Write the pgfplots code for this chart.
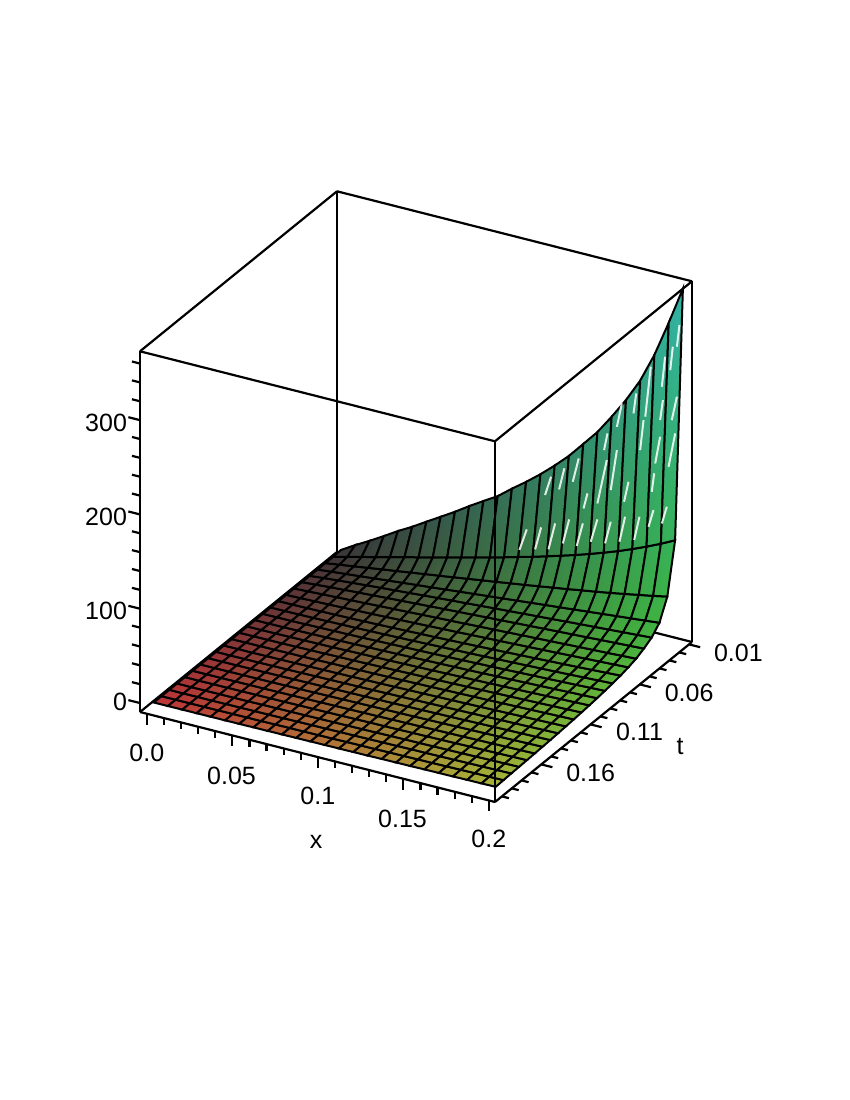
\documentclass[border=0pt]{standalone}
\usepackage{pgfplots}
\pgfplotsset{compat=1.18}
\usepackage{fontspec}
\setmainfont{Liberation Sans}
\usetikzlibrary{calc}
\begin{document}
\begin{tikzpicture}[x=1pt,y=1pt]
\begin{axis}[
  name=ax,
  clip=false,
  x={(1710pt,-433.5pt)}, y={(985pt,800pt)}, z={(0pt,0.943pt)},
  y dir=reverse,
  xmin=-0.004, xmax=0.2036, ymin=0.007, ymax=0.207, zmin=-9.5, zmax=373,
  3d box=complete,
  xtick={0,0.05,0.1,0.15,0.2}, xticklabels={0.0,0.05,0.1,0.15,0.2},
  ytick={0.01,0.06,0.11,0.16}, yticklabels={0.01,0.06,0.11,0.16},
  ztick={0,100,200,300}, zticklabels={0,100,200,300},
  tick align=outside, major tick length=11pt, minor tick length=0pt,
  axis line style={line width=2.2pt},
  tick style={draw=none},
  tick label style={font=\fontsize{25}{30}\selectfont},
  xticklabel style={xshift=16pt,yshift=-16pt},
  yticklabel style={xshift=22pt,yshift=16pt},
  zticklabel style={xshift=-1pt,yshift=10pt},
  label style={font=\fontsize{25}{30}\selectfont},
  xlabel=x, ylabel=t,
  xlabel style={xshift=30pt,yshift=-19pt},
  ylabel style={xshift=38pt,yshift=38pt},
  unbounded coords=jump,
]
\addplot3[surf, shader=faceted interp, faceted color=black, line width=2pt, z buffer=sort,
  mesh/rows=25,
  mesh/color input=explicit mathparse,
  point meta={symbolic={(0.22+0.53*(y-0.01)/0.19)*(1-0.12*x/0.2), 0.2+0.5*x/0.2, 0.22+0.43*z/366}}]
coordinates {
(0,0.01,-3)(0.0083,0.01,6)(0.0167,0.01,14.4)(0.025,0.01,23.2)(0.0333,0.01,32.4)(0.0417,0.01,40.8)(0.05,0.01,50)(0.0583,0.01,59)(0.0667,0.01,68.2)(0.075,0.01,78)(0.0833,0.01,87.2)(0.0917,0.01,96.3)(0.1,0.01,108)(0.1083,0.01,119)(0.1167,0.01,131)(0.125,0.01,144)(0.1333,0.01,158)(0.1417,0.01,174.5)(0.15,0.01,191)(0.1583,0.01,211)(0.1667,0.01,232.6)(0.175,0.01,257)(0.1833,0.01,288)(0.1917,0.01,326)(0.2,0.01,366)
(0,0.0179,-3.5)(0.0083,0.0179,0.2)(0.0167,0.0179,4)(0.025,0.0179,7.7)(0.0333,0.0179,11.5)(0.0417,0.0179,15.2)(0.05,0.0179,19)(0.0583,0.0179,22.7)(0.0667,0.0179,26.5)(0.075,0.0179,30.3)(0.0833,0.0179,34.2)(0.0917,0.0179,38)(0.1,0.0179,42)(0.1083,0.0179,46.1)(0.1167,0.0179,50.2)(0.125,0.0179,54.5)(0.1333,0.0179,59)(0.1417,0.0179,63.6)(0.15,0.0179,68.5)(0.1583,0.0179,73.7)(0.1667,0.0179,79.2)(0.175,0.0179,85.2)(0.1833,0.0179,91.6)(0.1917,0.0179,98.5)(0.2,0.0179,106)
(0,0.0258,-3.5)(0.0083,0.0258,-1.3)(0.0167,0.0258,0.8)(0.025,0.0258,3)(0.0333,0.0258,5.2)(0.0417,0.0258,7.3)(0.05,0.0258,9.5)(0.0583,0.0258,11.7)(0.0667,0.0258,13.8)(0.075,0.0258,16)(0.0833,0.0258,18.2)(0.0917,0.0258,20.4)(0.1,0.0258,22.6)(0.1083,0.0258,24.9)(0.1167,0.0258,27.1)(0.125,0.0258,29.4)(0.1333,0.0258,31.8)(0.1417,0.0258,34.1)(0.15,0.0258,36.6)(0.1583,0.0258,39)(0.1667,0.0258,41.6)(0.175,0.0258,44.3)(0.1833,0.0258,47.1)(0.1917,0.0258,49.9)(0.2,0.0258,53)
(0,0.0338,-3.5)(0.0083,0.0338,-2)(0.0167,0.0338,-0.5)(0.025,0.0338,0.9)(0.0333,0.0338,2.4)(0.0417,0.0338,3.9)(0.05,0.0338,5.4)(0.0583,0.0338,6.9)(0.0667,0.0338,8.3)(0.075,0.0338,9.8)(0.0833,0.0338,11.3)(0.0917,0.0338,12.8)(0.1,0.0338,14.3)(0.1083,0.0338,15.7)(0.1167,0.0338,17.2)(0.125,0.0338,18.7)(0.1333,0.0338,20.2)(0.1417,0.0338,21.6)(0.15,0.0338,23.1)(0.1583,0.0338,24.6)(0.1667,0.0338,26.1)(0.175,0.0338,27.6)(0.1833,0.0338,29)(0.1917,0.0338,30.5)(0.2,0.0338,32)
(0,0.0417,-3.5)(0.0083,0.0417,-2)(0.0167,0.0417,-0.7)(0.025,0.0417,0.6)(0.0333,0.0417,1.8)(0.0417,0.0417,3)(0.05,0.0417,4.1)(0.0583,0.0417,5.2)(0.0667,0.0417,6.4)(0.075,0.0417,7.5)(0.0833,0.0417,8.6)(0.0917,0.0417,9.6)(0.1,0.0417,10.7)(0.1083,0.0417,11.8)(0.1167,0.0417,12.8)(0.125,0.0417,13.9)(0.1333,0.0417,14.9)(0.1417,0.0417,15.9)(0.15,0.0417,17)(0.1583,0.0417,18)(0.1667,0.0417,19)(0.175,0.0417,20)(0.1833,0.0417,21)(0.1917,0.0417,22)(0.2,0.0417,23)
(0,0.0496,-3.5)(0.0083,0.0496,-2.3)(0.0167,0.0496,-1.2)(0.025,0.0496,-0.2)(0.0333,0.0496,0.8)(0.0417,0.0496,1.7)(0.05,0.0496,2.7)(0.0583,0.0496,3.6)(0.0667,0.0496,4.5)(0.075,0.0496,5.4)(0.0833,0.0496,6.3)(0.0917,0.0496,7.2)(0.1,0.0496,8)(0.1083,0.0496,8.9)(0.1167,0.0496,9.7)(0.125,0.0496,10.6)(0.1333,0.0496,11.4)(0.1417,0.0496,12.3)(0.15,0.0496,13.1)(0.1583,0.0496,13.9)(0.1667,0.0496,14.7)(0.175,0.0496,15.6)(0.1833,0.0496,16.4)(0.1917,0.0496,17.2)(0.2,0.0496,18)
(0,0.0575,-3.5)(0.0083,0.0575,-2.8)(0.0167,0.0575,-2)(0.025,0.0575,-1.3)(0.0333,0.0575,-0.6)(0.0417,0.0575,0.1)(0.05,0.0575,0.9)(0.0583,0.0575,1.6)(0.0667,0.0575,2.3)(0.075,0.0575,3.1)(0.0833,0.0575,3.8)(0.0917,0.0575,4.5)(0.1,0.0575,5.2)(0.1083,0.0575,6)(0.1167,0.0575,6.7)(0.125,0.0575,7.4)(0.1333,0.0575,8.2)(0.1417,0.0575,8.9)(0.15,0.0575,9.6)(0.1583,0.0575,10.4)(0.1667,0.0575,11.1)(0.175,0.0575,11.8)(0.1833,0.0575,12.5)(0.1917,0.0575,13.3)(0.2,0.0575,14)
(0,0.0654,-3.5)(0.0083,0.0654,-3.2)(0.0167,0.0654,-2.7)(0.025,0.0654,-2.3)(0.0333,0.0654,-1.8)(0.0417,0.0654,-1.2)(0.05,0.0654,-0.7)(0.0583,0.0654,-0.1)(0.0667,0.0654,0.5)(0.075,0.0654,1.1)(0.0833,0.0654,1.7)(0.0917,0.0654,2.4)(0.1,0.0654,3)(0.1083,0.0654,3.7)(0.1167,0.0654,4.4)(0.125,0.0654,5)(0.1333,0.0654,5.7)(0.1417,0.0654,6.4)(0.15,0.0654,7.1)(0.1583,0.0654,7.8)(0.1667,0.0654,8.6)(0.175,0.0654,9.3)(0.1833,0.0654,10)(0.1917,0.0654,10.8)(0.2,0.0654,11.5)
(0,0.0733,-3.5)(0.0083,0.0733,-3.4)(0.0167,0.0733,-3.2)(0.025,0.0733,-2.9)(0.0333,0.0733,-2.6)(0.0417,0.0733,-2.3)(0.05,0.0733,-1.9)(0.0583,0.0733,-1.5)(0.0667,0.0733,-1)(0.075,0.0733,-0.5)(0.0833,0.0733,0)(0.0917,0.0733,0.5)(0.1,0.0733,1.1)(0.1083,0.0733,1.7)(0.1167,0.0733,2.3)(0.125,0.0733,2.9)(0.1333,0.0733,3.6)(0.1417,0.0733,4.3)(0.15,0.0733,4.9)(0.1583,0.0733,5.7)(0.1667,0.0733,6.4)(0.175,0.0733,7.1)(0.1833,0.0733,7.9)(0.1917,0.0733,8.7)(0.2,0.0733,9.5)
(0,0.0813,-3.5)(0.0083,0.0813,-3.4)(0.0167,0.0813,-3.2)(0.025,0.0813,-3)(0.0333,0.0813,-2.7)(0.0417,0.0813,-2.4)(0.05,0.0813,-2.1)(0.0583,0.0813,-1.7)(0.0667,0.0813,-1.3)(0.075,0.0813,-0.9)(0.0833,0.0813,-0.4)(0.0917,0.0813,0.1)(0.1,0.0813,0.6)(0.1083,0.0813,1.1)(0.1167,0.0813,1.6)(0.125,0.0813,2.2)(0.1333,0.0813,2.8)(0.1417,0.0813,3.4)(0.15,0.0813,4)(0.1583,0.0813,4.6)(0.1667,0.0813,5.2)(0.175,0.0813,5.9)(0.1833,0.0813,6.6)(0.1917,0.0813,7.3)(0.2,0.0813,8)
(0,0.0892,-3.5)(0.0083,0.0892,-3.4)(0.0167,0.0892,-3.3)(0.025,0.0892,-3)(0.0333,0.0892,-2.8)(0.0417,0.0892,-2.5)(0.05,0.0892,-2.2)(0.0583,0.0892,-1.9)(0.0667,0.0892,-1.5)(0.075,0.0892,-1.1)(0.0833,0.0892,-0.7)(0.0917,0.0892,-0.3)(0.1,0.0892,0.1)(0.1083,0.0892,0.6)(0.1167,0.0892,1.1)(0.125,0.0892,1.6)(0.1333,0.0892,2.1)(0.1417,0.0892,2.6)(0.15,0.0892,3.2)(0.1583,0.0892,3.8)(0.1667,0.0892,4.3)(0.175,0.0892,4.9)(0.1833,0.0892,5.5)(0.1917,0.0892,6.2)(0.2,0.0892,6.8)
(0,0.0971,-3.5)(0.0083,0.0971,-3.4)(0.0167,0.0971,-3.3)(0.025,0.0971,-3.1)(0.0333,0.0971,-2.9)(0.0417,0.0971,-2.6)(0.05,0.0971,-2.4)(0.0583,0.0971,-2.1)(0.0667,0.0971,-1.7)(0.075,0.0971,-1.4)(0.0833,0.0971,-1)(0.0917,0.0971,-0.6)(0.1,0.0971,-0.2)(0.1083,0.0971,0.2)(0.1167,0.0971,0.6)(0.125,0.0971,1)(0.1333,0.0971,1.5)(0.1417,0.0971,2)(0.15,0.0971,2.5)(0.1583,0.0971,3)(0.1667,0.0971,3.5)(0.175,0.0971,4)(0.1833,0.0971,4.6)(0.1917,0.0971,5.1)(0.2,0.0971,5.7)
(0,0.105,-3.5)(0.0083,0.105,-3.4)(0.0167,0.105,-3.3)(0.025,0.105,-3.1)(0.0333,0.105,-2.9)(0.0417,0.105,-2.7)(0.05,0.105,-2.5)(0.0583,0.105,-2.2)(0.0667,0.105,-1.9)(0.075,0.105,-1.6)(0.0833,0.105,-1.3)(0.0917,0.105,-0.9)(0.1,0.105,-0.6)(0.1083,0.105,-0.2)(0.1167,0.105,0.2)(0.125,0.105,0.6)(0.1333,0.105,1)(0.1417,0.105,1.4)(0.15,0.105,1.9)(0.1583,0.105,2.3)(0.1667,0.105,2.8)(0.175,0.105,3.3)(0.1833,0.105,3.8)(0.1917,0.105,4.3)(0.2,0.105,4.8)
(0,0.1129,-3.5)(0.0083,0.1129,-3.4)(0.0167,0.1129,-3.3)(0.025,0.1129,-3.2)(0.0333,0.1129,-3)(0.0417,0.1129,-2.8)(0.05,0.1129,-2.6)(0.0583,0.1129,-2.3)(0.0667,0.1129,-2.1)(0.075,0.1129,-1.8)(0.0833,0.1129,-1.5)(0.0917,0.1129,-1.2)(0.1,0.1129,-0.8)(0.1083,0.1129,-0.5)(0.1167,0.1129,-0.2)(0.125,0.1129,0.2)(0.1333,0.1129,0.6)(0.1417,0.1129,1)(0.15,0.1129,1.4)(0.1583,0.1129,1.8)(0.1667,0.1129,2.2)(0.175,0.1129,2.6)(0.1833,0.1129,3.1)(0.1917,0.1129,3.5)(0.2,0.1129,4)
(0,0.1208,-3.5)(0.0083,0.1208,-3.4)(0.0167,0.1208,-3.3)(0.025,0.1208,-3.2)(0.0333,0.1208,-3)(0.0417,0.1208,-2.9)(0.05,0.1208,-2.7)(0.0583,0.1208,-2.4)(0.0667,0.1208,-2.2)(0.075,0.1208,-1.9)(0.0833,0.1208,-1.7)(0.0917,0.1208,-1.4)(0.1,0.1208,-1.1)(0.1083,0.1208,-0.8)(0.1167,0.1208,-0.5)(0.125,0.1208,-0.1)(0.1333,0.1208,0.2)(0.1417,0.1208,0.6)(0.15,0.1208,0.9)(0.1583,0.1208,1.3)(0.1667,0.1208,1.7)(0.175,0.1208,2.1)(0.1833,0.1208,2.5)(0.1917,0.1208,2.9)(0.2,0.1208,3.3)
(0,0.1288,-3.5)(0.0083,0.1288,-3.4)(0.0167,0.1288,-3.4)(0.025,0.1288,-3.2)(0.0333,0.1288,-3.1)(0.0417,0.1288,-2.9)(0.05,0.1288,-2.7)(0.0583,0.1288,-2.5)(0.0667,0.1288,-2.3)(0.075,0.1288,-2.1)(0.0833,0.1288,-1.8)(0.0917,0.1288,-1.6)(0.1,0.1288,-1.3)(0.1083,0.1288,-1)(0.1167,0.1288,-0.7)(0.125,0.1288,-0.4)(0.1333,0.1288,-0.1)(0.1417,0.1288,0.2)(0.15,0.1288,0.5)(0.1583,0.1288,0.9)(0.1667,0.1288,1.2)(0.175,0.1288,1.6)(0.1833,0.1288,1.9)(0.1917,0.1288,2.3)(0.2,0.1288,2.7)
(0,0.1367,-3.5)(0.0083,0.1367,-3.5)(0.0167,0.1367,-3.4)(0.025,0.1367,-3.3)(0.0333,0.1367,-3.1)(0.0417,0.1367,-3)(0.05,0.1367,-2.8)(0.0583,0.1367,-2.6)(0.0667,0.1367,-2.4)(0.075,0.1367,-2.2)(0.0833,0.1367,-2)(0.0917,0.1367,-1.8)(0.1,0.1367,-1.5)(0.1083,0.1367,-1.3)(0.1167,0.1367,-1)(0.125,0.1367,-0.7)(0.1333,0.1367,-0.5)(0.1417,0.1367,-0.2)(0.15,0.1367,0.1)(0.1583,0.1367,0.4)(0.1667,0.1367,0.8)(0.175,0.1367,1.1)(0.1833,0.1367,1.4)(0.1917,0.1367,1.8)(0.2,0.1367,2.1)
(0,0.1446,-3.5)(0.0083,0.1446,-3.5)(0.0167,0.1446,-3.4)(0.025,0.1446,-3.3)(0.0333,0.1446,-3.2)(0.0417,0.1446,-3)(0.05,0.1446,-2.9)(0.0583,0.1446,-2.7)(0.0667,0.1446,-2.5)(0.075,0.1446,-2.3)(0.0833,0.1446,-2.1)(0.0917,0.1446,-1.9)(0.1,0.1446,-1.7)(0.1083,0.1446,-1.5)(0.1167,0.1446,-1.2)(0.125,0.1446,-1)(0.1333,0.1446,-0.7)(0.1417,0.1446,-0.5)(0.15,0.1446,-0.2)(0.1583,0.1446,0.1)(0.1667,0.1446,0.4)(0.175,0.1446,0.7)(0.1833,0.1446,1)(0.1917,0.1446,1.3)(0.2,0.1446,1.6)
(0,0.1525,-3.5)(0.0083,0.1525,-3.5)(0.0167,0.1525,-3.4)(0.025,0.1525,-3.3)(0.0333,0.1525,-3.2)(0.0417,0.1525,-3.1)(0.05,0.1525,-2.9)(0.0583,0.1525,-2.8)(0.0667,0.1525,-2.6)(0.075,0.1525,-2.4)(0.0833,0.1525,-2.2)(0.0917,0.1525,-2)(0.1,0.1525,-1.8)(0.1083,0.1525,-1.6)(0.1167,0.1525,-1.4)(0.125,0.1525,-1.2)(0.1333,0.1525,-0.9)(0.1417,0.1525,-0.7)(0.15,0.1525,-0.4)(0.1583,0.1525,-0.2)(0.1667,0.1525,0.1)(0.175,0.1525,0.3)(0.1833,0.1525,0.6)(0.1917,0.1525,0.9)(0.2,0.1525,1.2)
(0,0.1604,-3.5)(0.0083,0.1604,-3.5)(0.0167,0.1604,-3.4)(0.025,0.1604,-3.3)(0.0333,0.1604,-3.2)(0.0417,0.1604,-3.1)(0.05,0.1604,-3)(0.0583,0.1604,-2.8)(0.0667,0.1604,-2.7)(0.075,0.1604,-2.5)(0.0833,0.1604,-2.3)(0.0917,0.1604,-2.2)(0.1,0.1604,-2)(0.1083,0.1604,-1.8)(0.1167,0.1604,-1.6)(0.125,0.1604,-1.4)(0.1333,0.1604,-1.2)(0.1417,0.1604,-0.9)(0.15,0.1604,-0.7)(0.1583,0.1604,-0.5)(0.1667,0.1604,-0.2)(0.175,0.1604,0)(0.1833,0.1604,0.3)(0.1917,0.1604,0.5)(0.2,0.1604,0.8)
(0,0.1683,-3.5)(0.0083,0.1683,-3.5)(0.0167,0.1683,-3.4)(0.025,0.1683,-3.3)(0.0333,0.1683,-3.2)(0.0417,0.1683,-3.1)(0.05,0.1683,-3)(0.0583,0.1683,-2.9)(0.0667,0.1683,-2.7)(0.075,0.1683,-2.6)(0.0833,0.1683,-2.5)(0.0917,0.1683,-2.3)(0.1,0.1683,-2.1)(0.1083,0.1683,-1.9)(0.1167,0.1683,-1.8)(0.125,0.1683,-1.6)(0.1333,0.1683,-1.4)(0.1417,0.1683,-1.2)(0.15,0.1683,-1)(0.1583,0.1683,-0.8)(0.1667,0.1683,-0.5)(0.175,0.1683,-0.3)(0.1833,0.1683,-0.1)(0.1917,0.1683,0.2)(0.2,0.1683,0.4)
(0,0.1763,-3.5)(0.0083,0.1763,-3.5)(0.0167,0.1763,-3.4)(0.025,0.1763,-3.3)(0.0333,0.1763,-3.3)(0.0417,0.1763,-3.2)(0.05,0.1763,-3)(0.0583,0.1763,-2.9)(0.0667,0.1763,-2.8)(0.075,0.1763,-2.7)(0.0833,0.1763,-2.5)(0.0917,0.1763,-2.4)(0.1,0.1763,-2.2)(0.1083,0.1763,-2.1)(0.1167,0.1763,-1.9)(0.125,0.1763,-1.7)(0.1333,0.1763,-1.5)(0.1417,0.1763,-1.4)(0.15,0.1763,-1.2)(0.1583,0.1763,-1)(0.1667,0.1763,-0.8)(0.175,0.1763,-0.6)(0.1833,0.1763,-0.3)(0.1917,0.1763,-0.1)(0.2,0.1763,0.1)
(0,0.1842,-3.5)(0.0083,0.1842,-3.5)(0.0167,0.1842,-3.4)(0.025,0.1842,-3.4)(0.0333,0.1842,-3.3)(0.0417,0.1842,-3.2)(0.05,0.1842,-3.1)(0.0583,0.1842,-3)(0.0667,0.1842,-2.9)(0.075,0.1842,-2.7)(0.0833,0.1842,-2.6)(0.0917,0.1842,-2.5)(0.1,0.1842,-2.3)(0.1083,0.1842,-2.2)(0.1167,0.1842,-2)(0.125,0.1842,-1.9)(0.1333,0.1842,-1.7)(0.1417,0.1842,-1.5)(0.15,0.1842,-1.4)(0.1583,0.1842,-1.2)(0.1667,0.1842,-1)(0.175,0.1842,-0.8)(0.1833,0.1842,-0.6)(0.1917,0.1842,-0.4)(0.2,0.1842,-0.2)
(0,0.1921,-3.5)(0.0083,0.1921,-3.5)(0.0167,0.1921,-3.4)(0.025,0.1921,-3.4)(0.0333,0.1921,-3.3)(0.0417,0.1921,-3.2)(0.05,0.1921,-3.1)(0.0583,0.1921,-3.1)(0.0667,0.1921,-2.9)(0.075,0.1921,-2.8)(0.0833,0.1921,-2.7)(0.0917,0.1921,-2.6)(0.1,0.1921,-2.5)(0.1083,0.1921,-2.3)(0.1167,0.1921,-2.2)(0.125,0.1921,-2.1)(0.1333,0.1921,-1.9)(0.1417,0.1921,-1.8)(0.15,0.1921,-1.6)(0.1583,0.1921,-1.5)(0.1667,0.1921,-1.3)(0.175,0.1921,-1.1)(0.1833,0.1921,-0.9)(0.1917,0.1921,-0.8)(0.2,0.1921,-0.6)
(0,0.2,-3.5)(0.0083,0.2,-3.5)(0.0167,0.2,-3.4)(0.025,0.2,-3.4)(0.0333,0.2,-3.3)(0.0417,0.2,-3.3)(0.05,0.2,-3.2)(0.0583,0.2,-3.1)(0.0667,0.2,-3)(0.075,0.2,-2.9)(0.0833,0.2,-2.8)(0.0917,0.2,-2.7)(0.1,0.2,-2.6)(0.1083,0.2,-2.5)(0.1167,0.2,-2.4)(0.125,0.2,-2.3)(0.1333,0.2,-2.1)(0.1417,0.2,-2)(0.15,0.2,-1.9)(0.1583,0.2,-1.7)(0.1667,0.2,-1.6)(0.175,0.2,-1.5)(0.1833,0.2,-1.3)(0.1917,0.2,-1.2)(0.2,0.2,-1)
};
% white slivers on the steep part of the surface
\addplot3[white,opacity=0.85,line width=2pt,mark=none] coordinates {
(0.1044,0.01,45)(0.1087,0.01,68.8)(nan,nan,nan)(0.1136,0.01,49.9)(0.1171,0.01,74.8)(nan,nan,nan)(0.1194,0.01,110.2)(0.1229,0.01,131.2)(nan,nan,nan)(0.1276,0.01,119.9)(0.1307,0.01,143.7)(nan,nan,nan)
(0.1214,0.01,53.5)(0.1253,0.01,82.8)(nan,nan,nan)(0.1298,0.01,63.6)(0.1335,0.01,90.8)(nan,nan,nan)(0.1356,0.01,131.7)(0.1391,0.01,158.1)(nan,nan,nan)(0.1379,0.01,64.6)(0.1415,0.01,90.2)(nan,nan,nan)
(0.1419,0.01,106.3)(0.1442,0.01,123.3)(nan,nan,nan)(0.1461,0.01,72.9)(0.15,0.01,98.4)(nan,nan,nan)(0.15,0.01,115.3)(0.1555,0.01,163.8)(nan,nan,nan)(0.1545,0.01,75)(0.1578,0.01,99.5)(nan,nan,nan)
(0.1539,0.01,173.7)(0.1559,0.01,192.3)(nan,nan,nan)(0.1578,0.01,133.1)(0.1614,0.01,177.1)(nan,nan,nan)(0.1614,0.01,201.8)(0.1643,0.01,228)(nan,nan,nan)(0.1629,0.01,80.7)(0.1662,0.01,108.7)(nan,nan,nan)
(0.1656,0.01,124.3)(0.1682,0.01,146.7)(nan,nan,nan)(0.1711,0.01,220.5)(0.1727,0.01,242.4)(nan,nan,nan)(0.1715,0.01,86.4)(0.1746,0.01,112.5)(nan,nan,nan)(0.175,0.01,183.4)(0.177,0.01,216.1)(nan,nan,nan)
(0.178,0.01,220.2)(0.1812,0.01,274.7)(nan,nan,nan)(0.1799,0.01,104.3)(0.1828,0.01,123.4)(nan,nan,nan)(0.1818,0.01,142.3)(0.1832,0.01,162.5)(nan,nan,nan)(0.1838,0.01,173.3)(0.1867,0.01,202.9)(nan,nan,nan)
(0.1877,0.01,111.4)(0.1906,0.01,130.5)(nan,nan,nan)(0.1867,0.01,220.6)(0.1883,0.01,242.5)(nan,nan,nan)(0.1877,0.01,256.4)(0.1896,0.01,289.1)(nan,nan,nan)(0.1916,0.01,173.3)(0.1955,0.01,210.5)(nan,nan,nan)
(0.1935,0.01,223.7)(0.1965,0.01,249.9)(nan,nan,nan)(0.1926,0.01,276.3)(0.1941,0.01,301.8)(nan,nan,nan)(0.1965,0.01,302.9)(0.198,0.01,326.6)
};
% x ticks, straight down from the front edge
\addplot3[black,line width=2.2pt,mark=none] coordinates {
(0,0.207,-9.5)(0,0.207,-21)(nan,nan,nan)(0.01,0.207,-9.5)(0.01,0.207,-17)(nan,nan,nan)(0.02,0.207,-9.5)(0.02,0.207,-17)(nan,nan,nan)(0.03,0.207,-9.5)(0.03,0.207,-17)(nan,nan,nan)(0.04,0.207,-9.5)(0.04,0.207,-17)(nan,nan,nan)
(0.05,0.207,-9.5)(0.05,0.207,-21)(nan,nan,nan)(0.06,0.207,-9.5)(0.06,0.207,-17)(nan,nan,nan)(0.07,0.207,-9.5)(0.07,0.207,-17)(nan,nan,nan)(0.08,0.207,-9.5)(0.08,0.207,-17)(nan,nan,nan)(0.09,0.207,-9.5)(0.09,0.207,-17)(nan,nan,nan)
(0.1,0.207,-9.5)(0.1,0.207,-21)(nan,nan,nan)(0.11,0.207,-9.5)(0.11,0.207,-17)(nan,nan,nan)(0.12,0.207,-9.5)(0.12,0.207,-17)(nan,nan,nan)(0.13,0.207,-9.5)(0.13,0.207,-17)(nan,nan,nan)(0.14,0.207,-9.5)(0.14,0.207,-17)(nan,nan,nan)
(0.15,0.207,-9.5)(0.15,0.207,-21)(nan,nan,nan)(0.16,0.207,-9.5)(0.16,0.207,-17)(nan,nan,nan)(0.17,0.207,-9.5)(0.17,0.207,-17)(nan,nan,nan)(0.18,0.207,-9.5)(0.18,0.207,-17)(nan,nan,nan)(0.19,0.207,-9.5)(0.19,0.207,-17)(nan,nan,nan)
(0.2,0.207,-9.5)(0.2,0.207,-21)
};
% t ticks, along x from the right edge
\addplot3[black,line width=2.2pt,mark=none] coordinates {
(0.2036,0.01,-9.5)(0.2101,0.01,-9.5)(nan,nan,nan)(0.2036,0.02,-9.5)(0.2077,0.02,-9.5)(nan,nan,nan)(0.2036,0.03,-9.5)(0.2077,0.03,-9.5)(nan,nan,nan)(0.2036,0.04,-9.5)(0.2077,0.04,-9.5)(nan,nan,nan)(0.2036,0.05,-9.5)(0.2077,0.05,-9.5)(nan,nan,nan)
(0.2036,0.06,-9.5)(0.2101,0.06,-9.5)(nan,nan,nan)(0.2036,0.07,-9.5)(0.2077,0.07,-9.5)(nan,nan,nan)(0.2036,0.08,-9.5)(0.2077,0.08,-9.5)(nan,nan,nan)(0.2036,0.09,-9.5)(0.2077,0.09,-9.5)(nan,nan,nan)(0.2036,0.1,-9.5)(0.2077,0.1,-9.5)(nan,nan,nan)
(0.2036,0.11,-9.5)(0.2101,0.11,-9.5)(nan,nan,nan)(0.2036,0.12,-9.5)(0.2077,0.12,-9.5)(nan,nan,nan)(0.2036,0.13,-9.5)(0.2077,0.13,-9.5)(nan,nan,nan)(0.2036,0.14,-9.5)(0.2077,0.14,-9.5)(nan,nan,nan)(0.2036,0.15,-9.5)(0.2077,0.15,-9.5)(nan,nan,nan)
(0.2036,0.16,-9.5)(0.2101,0.16,-9.5)(nan,nan,nan)(0.2036,0.17,-9.5)(0.2077,0.17,-9.5)(nan,nan,nan)(0.2036,0.18,-9.5)(0.2077,0.18,-9.5)(nan,nan,nan)(0.2036,0.19,-9.5)(0.2077,0.19,-9.5)(nan,nan,nan)(0.2036,0.2,-9.5)(0.2077,0.2,-9.5)
};
% z ticks, along -x from the left edge
\addplot3[black,line width=2.2pt,mark=none] coordinates {
(-0.004,0.207,0)(-0.0108,0.207,0)(nan,nan,nan)(-0.004,0.207,20)(-0.0087,0.207,20)(nan,nan,nan)(-0.004,0.207,40)(-0.0087,0.207,40)(nan,nan,nan)(-0.004,0.207,60)(-0.0087,0.207,60)(nan,nan,nan)(-0.004,0.207,80)(-0.0087,0.207,80)(nan,nan,nan)
(-0.004,0.207,100)(-0.0108,0.207,100)(nan,nan,nan)(-0.004,0.207,120)(-0.0087,0.207,120)(nan,nan,nan)(-0.004,0.207,140)(-0.0087,0.207,140)(nan,nan,nan)(-0.004,0.207,160)(-0.0087,0.207,160)(nan,nan,nan)(-0.004,0.207,180)(-0.0087,0.207,180)(nan,nan,nan)
(-0.004,0.207,200)(-0.0108,0.207,200)(nan,nan,nan)(-0.004,0.207,220)(-0.0087,0.207,220)(nan,nan,nan)(-0.004,0.207,240)(-0.0087,0.207,240)(nan,nan,nan)(-0.004,0.207,260)(-0.0087,0.207,260)(nan,nan,nan)(-0.004,0.207,280)(-0.0087,0.207,280)(nan,nan,nan)
(-0.004,0.207,300)(-0.0108,0.207,300)(nan,nan,nan)(-0.004,0.207,320)(-0.0087,0.207,320)(nan,nan,nan)(-0.004,0.207,340)(-0.0087,0.207,340)(nan,nan,nan)(-0.004,0.207,360)(-0.0087,0.207,360)
};
\coordinate (c) at (axis cs:-0.004,0.207,-9.5);
\end{axis}
\path[use as bounding box] ($(c)+(-140,-388)$) rectangle ($(c)+(710,712)$);
\end{tikzpicture}
\end{document}
